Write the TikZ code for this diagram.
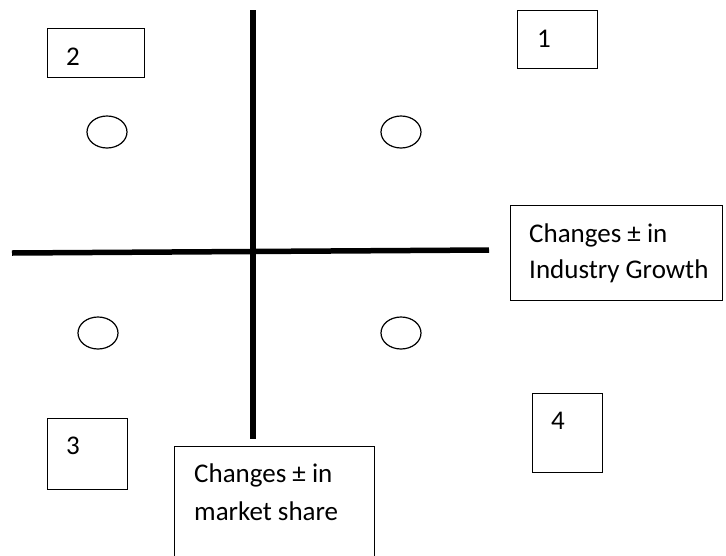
\documentclass[tikz,border=0pt]{standalone}
\usepackage{fontspec}
\setmainfont{Carlito}
\usetikzlibrary{shapes.geometric}
\begin{document}
\begin{tikzpicture}[x=1pt, y=-1pt,
	box/.style={draw, line width=1.3pt, rectangle, inner sep=0, anchor=north west},
	quad/.style={draw, line width=1.2pt, ellipse, minimum width=40, minimum height=32, inner sep=0},
	l/.style={font=\fontsize{27}{36}\selectfont, anchor=base west, inner sep=0}]
	\useasboundingbox (0,0) rectangle (726,555);

	% the two axes
	\coordinate (west) at (12,253);
	\coordinate (east) at (489,250);
	\coordinate (north) at (253,10);
	\coordinate (south) at (253,439);
	\draw[line width=5.5pt] (west) -- (east);
	\draw[line width=5.5pt] (north) -- (south);

	% numbered boxes
	\node[box, minimum width=97, minimum height=49] (b2) at (47,28) {};
	\node[box, minimum width=80, minimum height=58] (b1) at (517,10) {};
	\node[box, minimum width=80, minimum height=71] (b3) at (47,418) {};
	\node[box, minimum width=70, minimum height=79] (b4) at (532,393) {};
	\node[l] (n2) at (66,65) {2};
	\node[l] (n1) at (537,47) {1};
	\node[l] (n3) at (66,454) {3};
	\node[l] (n4) at (551,429) {4};

	% circles in the four quadrants
	\node[quad] (c2) at (107,132) {};
	\node[quad] (c1) at (401,132) {};
	\node[quad] (c3) at (98,333) {};
	\node[quad] (c4) at (401,333) {};

	% axis captions
	\node[box, minimum width=212, minimum height=95] (growth) at (510,205) {};
	\node[l] (g1) at (529,242) {Changes ± in};
	\node[l] (g2) at (529,278) {Industry Growth};
	\node[box, minimum width=200, minimum height=120] (share) at (174,446) {};
	\node[l] (s1) at (194,482) {Changes ± in};
	\node[l] (s2) at (194,520) {market share};
\end{tikzpicture}
\end{document}
